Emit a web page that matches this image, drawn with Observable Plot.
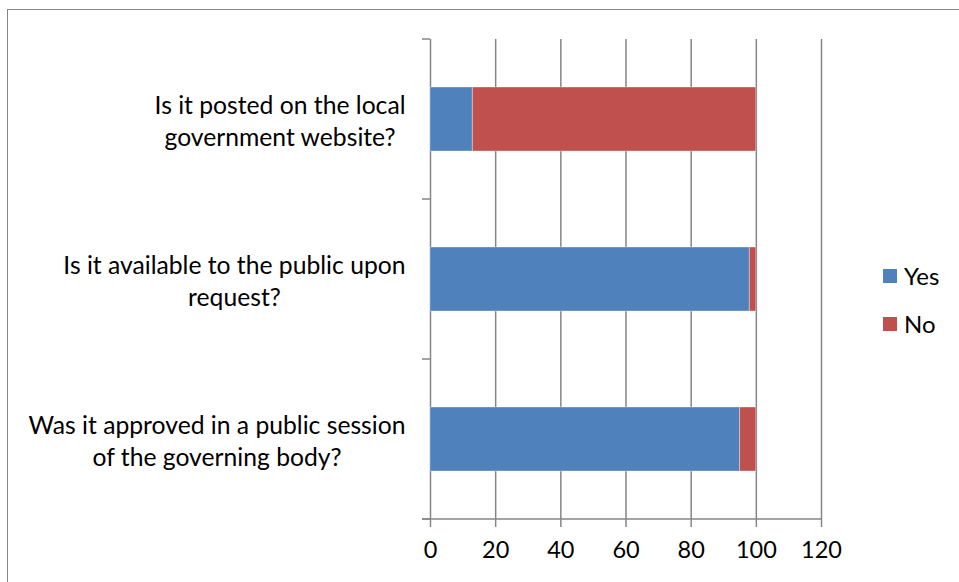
<!DOCTYPE html>
<html>
<head>
<meta charset="utf-8">
<script src="https://cdn.jsdelivr.net/npm/d3@7"></script>
<script src="https://cdn.jsdelivr.net/npm/@observablehq/plot@0.6"></script>
<style>
  html, body { margin: 0; padding: 0; background: #fff; overflow: hidden; }
  #wrap { position: relative; width: 959px; height: 582px; overflow: hidden; font-family: Lato, "Open Sans", sans-serif; }
  #border { position: absolute; left: 7px; top: 9px; width: 960px; height: 600px; border: 1.5px solid #868686; box-sizing: border-box; }
  #chart { position: absolute; left: 0; top: 0; }
  .legend { position: absolute; left: 883px; font-size: 24px; color: #000; display: flex; align-items: center; }
  .legend span.sw { display: inline-block; width: 14px; height: 14px; margin-right: 7px; }
</style>
</head>
<body>
<div id="wrap">
  <div id="border"></div>
  <div id="chart"></div>
</div>
<script>
// Survey questions, top to bottom
const questions = [
  "Is it posted on the local\ngovernment website?",
  "Is it available to the public upon\nrequest?",
  "Was it approved in a public session\nof the governing body?"
];
const answers = ["Yes", "No"];
const yesValues = [13, 98, 95];
const noValues = [87, 2, 5];
const xTicks = [0, 20, 40, 60, 80, 100, 120];
const colors = ["#4F81BD", "#C0504D"];

const rows = questions.flatMap((q, i) => [
  {question: q, answer: "Yes", value: yesValues[i]},
  {question: q, answer: "No", value: noValues[i]}
]);

const labelFont = 24.7;
const fontFamily = "Lato, 'Open Sans', sans-serif";
const gridColor = "#868686";

// widest line of each label, so every label block ends at the same right edge
const ctx = document.createElement("canvas").getContext("2d");
ctx.font = `${labelFont}px Lato`;
const blockWidth = q => d3.max(q.split("\n"), s => ctx.measureText(s).width);

const marginLeft = 430, marginRight = 138, marginTop = 39, marginBottom = 63;
const labelRightGap = 25;

const chart = Plot.plot({
  width: 959,
  height: 582,
  marginLeft, marginRight, marginTop, marginBottom,
  style: {fontFamily, color: "#000", background: "transparent"},
  x: {domain: [0, 120], axis: null, label: null},
  y: {domain: questions, paddingInner: 0.6, paddingOuter: 0.3, axis: null, label: null},
  color: {domain: answers, range: colors},
  marks: [
    Plot.ruleX(xTicks, {stroke: gridColor, strokeWidth: 1.5}),
    Plot.barX(rows, {
      x: "value", y: "question", fill: "answer",
      order: answers, stroke: "#fff", strokeOpacity: 0.35, strokeWidth: 1
    }),
    Plot.axisX({
      ticks: xTicks, tickSize: 8, tickPadding: 14, stroke: gridColor, strokeWidth: 1.5,
      fill: "#000", fontSize: 23.5, tickFormat: d => String(d), label: null
    }),
    ...questions.map(q => Plot.text([q], {
      y: d => d, text: d => d,
      frameAnchor: "left", textAnchor: "middle",
      dx: -(labelRightGap + blockWidth(q) / 2),
      fontSize: labelFont, lineHeight: 32 / labelFont, fill: "#000"
    }))
  ]
});

// category boundary ticks and the baseline, placed with the chart's own scales
const ys = chart.scale("y");
const xs = chart.scale("x");
const svg = d3.select(chart);
const step = ys.step, bw = ys.bandwidth;
const boundaries = questions.map(q => ys.apply(q) - (step - bw) / 2);
boundaries.push(ys.apply(questions[questions.length - 1]) + bw + (step - bw) / 2);
const x0 = xs.apply(0), x1 = xs.apply(120);
const g = svg.append("g").attr("stroke", gridColor).attr("stroke-width", 1.5);
g.selectAll("line.cat").data(boundaries).join("line")
  .attr("x1", x0 - 8).attr("x2", x0).attr("y1", d => d).attr("y2", d => d);
g.append("line").attr("x1", x0 - 8).attr("x2", x1)
  .attr("y1", boundaries[boundaries.length - 1]).attr("y2", boundaries[boundaries.length - 1]);

document.getElementById("chart").appendChild(chart);

// legend at the right
const wrap = document.getElementById("wrap");
const legendTops = [261, 309];
answers.forEach((a, i) => {
  const el = document.createElement("div");
  el.className = "legend";
  el.style.top = legendTops[i] + "px";
  el.innerHTML = `<span class="sw" style="background:${colors[i]}"></span>${a}`;
  wrap.appendChild(el);
});
</script>
</body>
</html>
